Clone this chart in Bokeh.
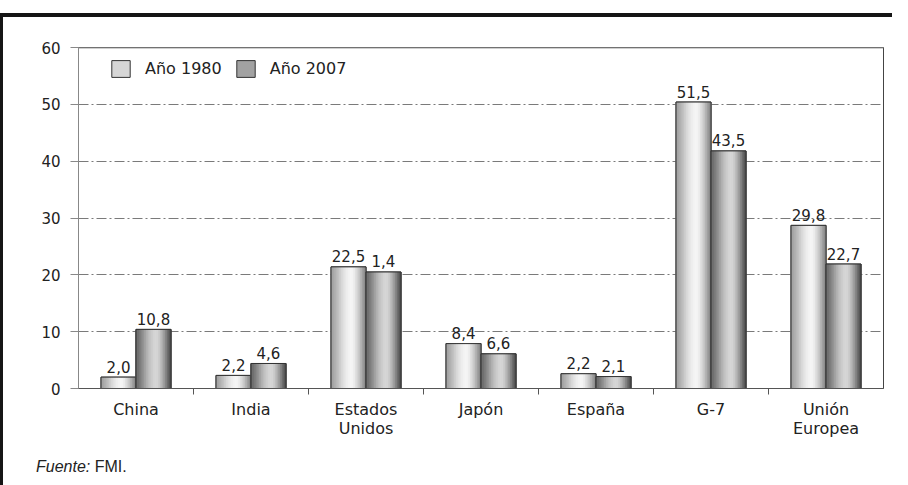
import math
from bokeh.plotting import figure
from bokeh.layouts import column
from bokeh.models import (Range1d, FixedTicker, Span, Legend, LegendItem, Div,
                          ColumnDataSource)
from bokeh.core.properties import value
from bokeh.embed import file_html
from bokeh.resources import INLINE

# ---------------- data ----------------
categories = ["China", "India", "Estados\nUnidos", "Japón", "España", "G-7", "Unión\nEuropea"]
series_names = ["Año 1980", "Año 2007"]
values_1980 = [2.0, 2.3, 21.4, 7.9, 2.6, 50.4, 28.7]
values_2007 = [10.4, 4.4, 20.5, 6.1, 2.1, 41.8, 21.9]
labels_1980 = ["2,0", "2,2", "22,5", "8,4", "2,2", "51,5", "29,8"]
labels_2007 = ["10,8", "4,6", "1,4", "6,6", "2,1", "43,5", "22,7"]
y_ticks = [0, 10, 20, 30, 40, 50, 60]
source_note = ("Fuente:", "FMI.")

FONT = "DejaVu Sans"
TXT = "#222222"
base_colors = ["#d6d6d6", "#a2a2a2"]

n_cat = len(categories)
bw = 0.304          # bar width (category units)
N = 20              # strips per bar to imitate the cylindrical shading


def shade(series, t):
    # brightness profile across a bar (0 = left edge, 1 = right edge)
    if series == 0:
        left, peak, right = 0.62, 0.96, 0.52
    else:
        left, peak, right = 0.40, 0.84, 0.30
    tp = 0.6
    if t <= tp:
        u = t / tp
        b = left + (peak - left) * (math.sin(u * math.pi / 2) ** 1.5)
    else:
        u = (t - tp) / (1 - tp)
        b = peak + (right - peak) * (1 - math.cos(u * math.pi / 2)) ** 0.8
    g = int(round(255 * b))
    return "#%02x%02x%02x" % (g, g, g)


p = figure(width=889, height=436, frame_width=805, frame_height=341,
           x_range=Range1d(0, n_cat), y_range=Range1d(y_ticks[0], y_ticks[-1]),
           output_backend="svg", toolbar_location=None,
           min_border_left=75, min_border_right=9, min_border_top=30, min_border_bottom=65)
p.background_fill_color = "white"
p.border_fill_color = "white"
p.outline_line_color = "#444444"
p.outline_line_width = 1

# grid
p.xgrid.visible = False
p.ygrid.ticker = FixedTicker(ticks=y_ticks[1:-1])
p.ygrid.grid_line_color = "#7a7a7a"
p.ygrid.grid_line_dash = "10 3 2 3"
p.ygrid.grid_line_width = 1

p.add_layout(Span(location=y_ticks[-1], dimension="width", line_color="#a0a0a0", line_width=2))

# bars: base fill (used for the legend) + strips for shading + outlines + value labels
all_vals = [values_1980, values_2007]
all_labels = [labels_1980, labels_2007]
legend_items = []
for s in range(2):
    centers = [i + 0.5 + (s - 0.5) * bw for i in range(n_cat)]
    osrc = ColumnDataSource(dict(x=centers, top=all_vals[s], lab=all_labels[s]))
    r_base = p.vbar(x="x", top="top", bottom=0, width=bw, fill_color=base_colors[s],
                    line_color="#333333", line_width=1, source=osrc)
    xs, tops, cols = [], [], []
    for i in range(n_cat):
        for k in range(N):
            t = (k + 0.5) / N
            xs.append(centers[i] - bw / 2 + t * bw)
            tops.append(all_vals[s][i])
            cols.append(shade(s, t))
    src = ColumnDataSource(dict(x=xs, top=tops, color=cols))
    p.vbar(x="x", top="top", bottom=0, width=bw / N * 1.7, fill_color="color",
           line_color=None, source=src)
    p.vbar(x="x", top="top", bottom=0, width=bw, fill_color=None,
           line_color="#333333", line_width=1, source=osrc)
    p.text(x="x", y="top", text="lab", source=osrc, text_align="center",
           text_baseline="alphabetic", y_offset=-10.5, text_font=value(FONT),
           text_font_size="15px", text_color=TXT)
    legend_items.append(LegendItem(label=series_names[s], renderers=[r_base]))

legend = Legend(items=legend_items, location=(31, 309), orientation="horizontal",
                glyph_width=23, glyph_height=21, label_standoff=13, spacing=12,
                padding=0, margin=0, border_line_color=None, background_fill_alpha=0,
                label_text_font=FONT, label_text_font_size="16px", label_text_color=TXT)
p.add_layout(legend)

# x axis
xa = p.xaxis[0]
xa.ticker = FixedTicker(ticks=[i + 0.5 for i in range(n_cat)],
                        minor_ticks=[i for i in range(1, n_cat)])
xa.major_label_overrides = {i + 0.5: categories[i] for i in range(n_cat)}
xa.axis_line_color = "#555555"
xa.major_tick_line_color = None
xa.major_tick_in = 0
xa.major_tick_out = 0
xa.minor_tick_line_color = "#555555"
xa.minor_tick_in = 0
xa.minor_tick_out = 6
xa.major_label_standoff = 5
xa.major_label_text_font = FONT
xa.major_label_text_font_size = "16px"
xa.major_label_text_line_height = 1.05
xa.major_label_text_color = TXT

# y axis
ya = p.yaxis[0]
ya.ticker = FixedTicker(ticks=y_ticks)
ya.axis_line_color = "#888888"
ya.major_tick_line_color = "#888888"
ya.major_tick_in = 0
ya.major_tick_out = 8
ya.minor_tick_line_color = None
ya.major_label_standoff = 10
ya.major_label_text_font = FONT
ya.major_label_text_font_size = "15px"
ya.major_label_text_color = TXT

# source note
note = Div(text="<i>%s</i> %s" % source_note, width=300, height=22,
           styles={"font-family": "Liberation Sans", "font-size": "16px", "color": TXT,
                   "margin-left": "33px", "line-height": "18px"})

layout = column(p, note, spacing=0,
                styles={"border-top": "4px solid #151515", "border-left": "3px solid #151515",
                        "margin-top": "13px"})

open("out.html", "w").write(file_html(layout, INLINE))
